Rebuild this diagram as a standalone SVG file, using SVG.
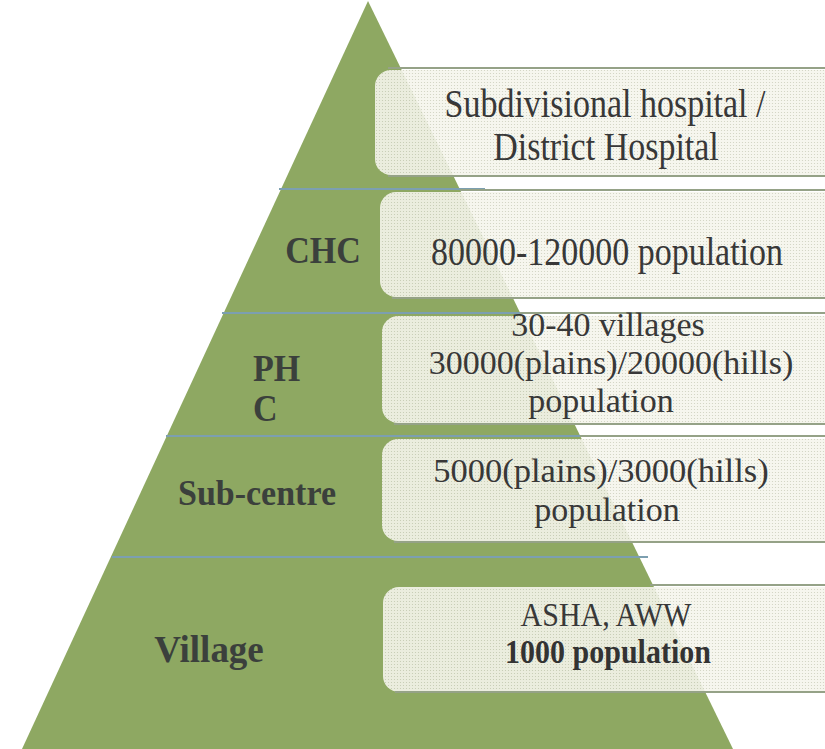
<svg xmlns="http://www.w3.org/2000/svg" width="825" height="749" viewBox="0 0 825 749">
<defs>
<pattern id="dots" width="3" height="3" patternUnits="userSpaceOnUse">
<rect width="3" height="3" fill="#f5f5ec"/>
<circle cx="1.5" cy="1.5" r="0.6" fill="#c9cdb9"/>
</pattern>
<style>
.box{fill:url(#dots);fill-opacity:0.9}
.edge{stroke:#95a287;stroke-width:1.8;fill:none}
.sep{stroke:#7c9fb0;stroke-width:2.2}
.t{font-family:"Liberation Serif","Times New Roman",serif;font-size:34px;fill:#383838;text-anchor:middle}
.b{font-family:"Liberation Serif","Times New Roman",serif;font-weight:bold;font-size:34px;fill:#3b403c;text-anchor:middle}
.l{text-anchor:start}
</style>
</defs>
<rect width="825" height="749" fill="#ffffff"/>
<g id="pyramid">
<polygon points="368,1 22,749 733,749" fill="#8ea862"/>
</g>
<g id="connectors">
<line class="sep" x1="279" y1="189" x2="485" y2="189"/>
<line class="sep" x1="222" y1="313" x2="545" y2="313"/>
<line class="sep" x1="166" y1="436" x2="606" y2="436"/>
<line class="sep" x1="112" y1="557" x2="648" y2="557"/>
</g>
<g id="district">
<rect class="box" x="375" y="70" width="470" height="105" rx="16"/>
<line class="edge" x1="388" y1="68" x2="825" y2="68"/>
<line class="edge" x1="388" y1="176" x2="825" y2="176"/>
<text class="t" transform="translate(605,117) scale(1,1.15)">Subdivisional hospital /</text>
<text class="t" transform="translate(606,160) scale(1,1.15)">District Hospital</text>
</g>
<g id="chc">
<rect class="box" x="380" y="192" width="465" height="105" rx="16"/>
<line class="edge" x1="460" y1="190" x2="825" y2="190"/>
<line class="edge" x1="392" y1="298" x2="825" y2="298"/>
<text class="b" transform="translate(323,263) scale(1,1.1)">CHC</text>
<text class="t" transform="translate(607,265) scale(1,1.18)">80000-120000 population</text>
</g>
<g id="phc">
<rect class="box" x="382" y="316" width="463" height="107" rx="16"/>
<line class="edge" x1="520" y1="313" x2="825" y2="313"/>
<line class="edge" x1="394" y1="424" x2="825" y2="424"/>
<text class="b l" transform="translate(253,381) scale(1,1.1)">PH</text>
<text class="b l" transform="translate(253,421) scale(1,1.1)">C</text>
<text class="t" x="608" y="336">30-40 villages</text>
<text class="t" x="611" y="374">30000(plains)/20000(hills)</text>
<text class="t" x="601" y="412">population</text>
</g>
<g id="subcentre">
<rect class="box" x="382" y="439" width="463" height="102" rx="16"/>
<line class="edge" x1="580" y1="436" x2="825" y2="436"/>
<line class="edge" x1="394" y1="542" x2="825" y2="542"/>
<text class="b" transform="translate(257,505) scale(1,1.05)">Sub-centre</text>
<text class="t" x="601" y="482" style="font-size:34.5px">5000(plains)/3000(hills)</text>
<text class="t" x="607" y="521">population</text>
</g>
<g id="village">
<rect class="box" x="383" y="587" width="462" height="105" rx="16"/>
<line class="edge" x1="650" y1="585" x2="825" y2="585"/>
<line class="edge" x1="395" y1="692" x2="825" y2="692"/>
<text class="b" transform="translate(209,662) scale(1,1.05)" style="font-size:37px">Village</text>
<text class="t" transform="translate(606,626) scale(1,1.15)" style="font-size:30px">ASHA, AWW</text>
<text class="b" transform="translate(608,663) scale(1,1.12)" style="font-size:30px;fill:#333">1000 population</text>
</g>
</svg>
